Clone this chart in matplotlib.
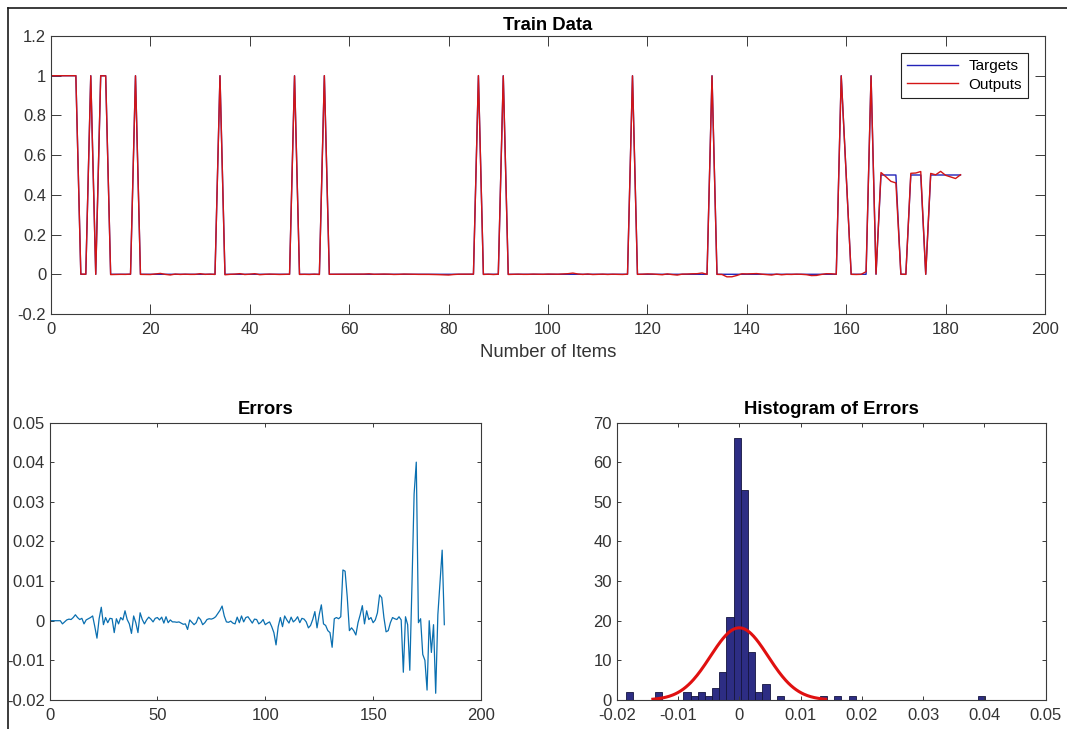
import numpy as np
import matplotlib.pyplot as plt
from matplotlib.lines import Line2D
from matplotlib.ticker import FuncFormatter, MultipleLocator

plt.rcParams["font.family"] = ["Liberation Sans", "DejaVu Sans"]
plt.rcParams["axes.unicode_minus"] = False

# ---- data ----
# target values for each item (index 0..183)
targets = [
    1, 1, 1, 1, 1, 1, 0, 0, 1, 0,
    1, 1, 0, 0, 0, 0, 0, 1, 0, 0,
    0, 0, 0, 0, 0, 0, 0, 0, 0, 0,
    0, 0, 0, 0, 1, 0, 0, 0, 0, 0,
    0, 0, 0, 0, 0, 0, 0, 0, 0, 1,
    0, 0, 0, 0, 0, 1, 0, 0, 0, 0,
    0, 0, 0, 0, 0, 0, 0, 0, 0, 0,
    0, 0, 0, 0, 0, 0, 0, 0, 0, 0,
    0, 0, 0, 0, 0, 0, 1, 0, 0, 0,
    0, 1, 0, 0, 0, 0, 0, 0, 0, 0,
    0, 0, 0, 0, 0, 0, 0, 0, 0, 0,
    0, 0, 0, 0, 0, 0, 0, 1, 0, 0,
    0, 0, 0, 0, 0, 0, 0, 0, 0, 0,
    0, 0, 0, 1, 0, 0, 0, 0, 0, 0,
    0, 0, 0, 0, 0, 0, 0, 0, 0, 0,
    0, 0, 0, 0, 0, 0, 0, 0, 0, 1,
    0.5, 0, 0, 0, 0, 1, 0, 0.5, 0.5, 0.5,
    0.5, 0, 0, 0.5, 0.5, 0.5, 0, 0.5, 0.5, 0.5,
    0.5, 0.5, 0.5, 0.5,
]

# errors = targets - outputs, in units of 1e-3
errors_milli = [
    0, 0, 0, 0, 0, 0, -0.8, -0.3, 0.2, 0.4,
    0.3, 0.8, 1.5, 0.8, 0.3, 0.6, -0.8, 0.2, 0.5, 0.8,
    1.2, -1.5, -4.4, 0.5, 3.4, -1.0, 0.8, -0.5, 0.6, 0.5,
    -3.0, 0.5, -0.8, 0.8, 0.2, 2.5, 0.3, -0.8, -3.2, 1.2,
    -0.5, -3.0, 2.0, 0.3, -0.8, 0.2, 0.9, 0.4, -0.3, 0.6,
    0.8, 0.2, 0.9, -0.6, 1.0, -0.5, 0.2, -0.3, -0.3, -0.4,
    -0.3, -0.6, -0.9, -0.8, -2.2, 0.2, -0.4, -1.0, -0.5, 0.9,
    0.3, -1.0, -0.5, 0.3, 0.5, 0.4, 0.6, 1.0, 1.8, 2.6,
    3.7, 1.2, -0.3, -0.4, -0.1, -0.6, -0.8, 0.9, -0.5, 1.2,
    -0.3, 0.8, 1.0, 0.2, -0.6, 0.4, 0.3, -0.8, -0.4, 0.3,
    -1.0, -0.6, -0.3, -1.5, -3.0, -6.1, -1.5, 0.8, -1.5, 1.2,
    0.2, -0.6, 0.9, -0.3, 0.2, 1.0, -0.5, 0.6, 0.4, -0.3,
    -1.8, -1.2, 0.3, 2.3, -1.8, 1.5, 4.0, -0.8, -1.2, -2.5,
    -3.0, -6.7, 0.5, 0.8, 0.5, 1.0, 12.8, 12.5, 6.0, -2.5,
    -1.8, -2.5, -3.6, -0.5, 1.5, 3.8, -0.8, 2.5, 0.3, 0.8,
    -0.5, 0.2, 2.0, 6.5, 5.8, 0.8, -2.8, -2.5, -0.5, 0.8,
    0.5, 0.3, 1.0, 0.2, -13.0, 1.0, -1.0, -12.5, 9.0, 32.0,
    40.0, -0.5, 0.5, -8.5, -10.0, -17.5, 0.0, -8.0, -1.0, -18.3,
    1.5, 9.5, 17.8, -1.0,
]

# histogram of errors: 50 bins between min and max error
hist_lo, hist_hi = -0.0185, 0.0401
hist_counts = [
    2, 0, 0, 0, 2, 0, 0, 0, 2, 1,
    2, 1, 3, 7, 21, 66, 53, 12, 2, 4,
    0, 1, 0, 0, 0, 0, 0, 1, 0, 1,
    0, 1, 0, 0, 0, 0, 0, 0, 0, 0,
    0, 0, 0, 0, 0, 0, 0, 0, 0, 1,
]
# fitted normal (histfit)
fit_mu, fit_sigma = 0.0, 0.0047

targets = np.array(targets, dtype=float)
errors = np.array(errors_milli) / 1000.0
outputs = targets - errors
items = np.arange(len(targets))

W, H = 1067, 729
fig = plt.figure(figsize=(W / 100, H / 100), dpi=100)

AX_COL = "#3a3a3a"
TXT_COL = "#333333"
TICK_FS = 12
TITLE_FS = 13.3


def tidy_fmt(v, pos):
    return f"{round(v, 6) + 0:g}"


def style_axes(ax, ticklen):
    for s in ax.spines.values():
        s.set_color(AX_COL)
        s.set_linewidth(0.8)
    ax.tick_params(direction="in", top=True, right=True, length=ticklen,
                   width=0.7, color=AX_COL, labelcolor=TXT_COL,
                   labelsize=TICK_FS)
    ax.tick_params(axis="x", pad=6)
    ax.xaxis.set_major_formatter(FuncFormatter(tidy_fmt))
    ax.yaxis.set_major_formatter(FuncFormatter(tidy_fmt))


def px_axes(left, top, right, bottom):
    return fig.add_axes([left / W, 1 - bottom / H, (right - left) / W, (bottom - top) / H])


# ---- Train Data ----
ax1 = px_axes(51, 36, 1045, 314)
ax1.plot(items, targets, color="#2323b8", lw=1.0, label="Targets")
ax1.plot(items, outputs, color="#d41515", lw=1.0, label="Outputs")
ax1.set_xlim(0, 200)
ax1.set_ylim(-0.2, 1.2)
ax1.xaxis.set_major_locator(MultipleLocator(20))
ax1.yaxis.set_major_locator(MultipleLocator(0.2))
style_axes(ax1, 7)
ax1.set_title("Train Data", fontsize=TITLE_FS, fontweight="bold", pad=4)
ax1.set_xlabel("Number of Items", fontsize=TITLE_FS, color=TXT_COL, labelpad=5)
leg = ax1.legend(loc="upper right", fontsize=11, handlelength=3.3,
                 fancybox=False, framealpha=1, borderpad=0.4,
                 labelspacing=0.3, borderaxespad=1.1, handletextpad=0.7)
leg.get_frame().set_edgecolor("#222222")
leg.get_frame().set_linewidth(0.8)

# ---- Errors ----
ax2 = px_axes(49.5, 422.5, 481, 700)
ax2.plot(items, errors, color="#0a6fb0", lw=0.9)
ax2.set_xlim(0, 200)
ax2.set_ylim(-0.02, 0.05)
ax2.xaxis.set_major_locator(MultipleLocator(50))
ax2.yaxis.set_major_locator(MultipleLocator(0.01))
style_axes(ax2, 3)
ax2.set_title("Errors", fontsize=TITLE_FS, fontweight="bold", pad=6)

# ---- Histogram of Errors ----
ax3 = px_axes(616.7, 422.5, 1045.7, 700)
edges = np.linspace(hist_lo, hist_hi, len(hist_counts) + 1)
bin_w = edges[1] - edges[0]
centers = (edges[:-1] + edges[1:]) / 2
ax3.bar(centers, hist_counts, width=bin_w, color="#2d2d84",
        edgecolor="#15153f", linewidth=0.6)
fit_x = np.linspace(fit_mu - 3 * fit_sigma, fit_mu + 3 * fit_sigma, 200)
fit_scale = sum(hist_counts) * bin_w / (fit_sigma * np.sqrt(2 * np.pi))
fit_y = fit_scale * np.exp(-0.5 * ((fit_x - fit_mu) / fit_sigma) ** 2)
ax3.plot(fit_x, fit_y, color="#e01010", lw=2.2)
ax3.set_xlim(-0.02, 0.05)
ax3.set_ylim(0, 70)
ax3.xaxis.set_major_locator(MultipleLocator(0.01))
ax3.yaxis.set_major_locator(MultipleLocator(10))
style_axes(ax3, 3)
ax3.set_title("Histogram of Errors", fontsize=TITLE_FS, fontweight="bold", pad=6)

# screenshot frame edges
fig.add_artist(Line2D([7.5 / W, 1], [1 - 7.5 / H, 1 - 7.5 / H],
                      transform=fig.transFigure, color="#1a1a1a", lw=1.2))
fig.add_artist(Line2D([7.5 / W, 7.5 / W], [0, 1 - 7.5 / H],
                      transform=fig.transFigure, color="#1a1a1a", lw=1.2))

fig.savefig("out.png", dpi=100)
